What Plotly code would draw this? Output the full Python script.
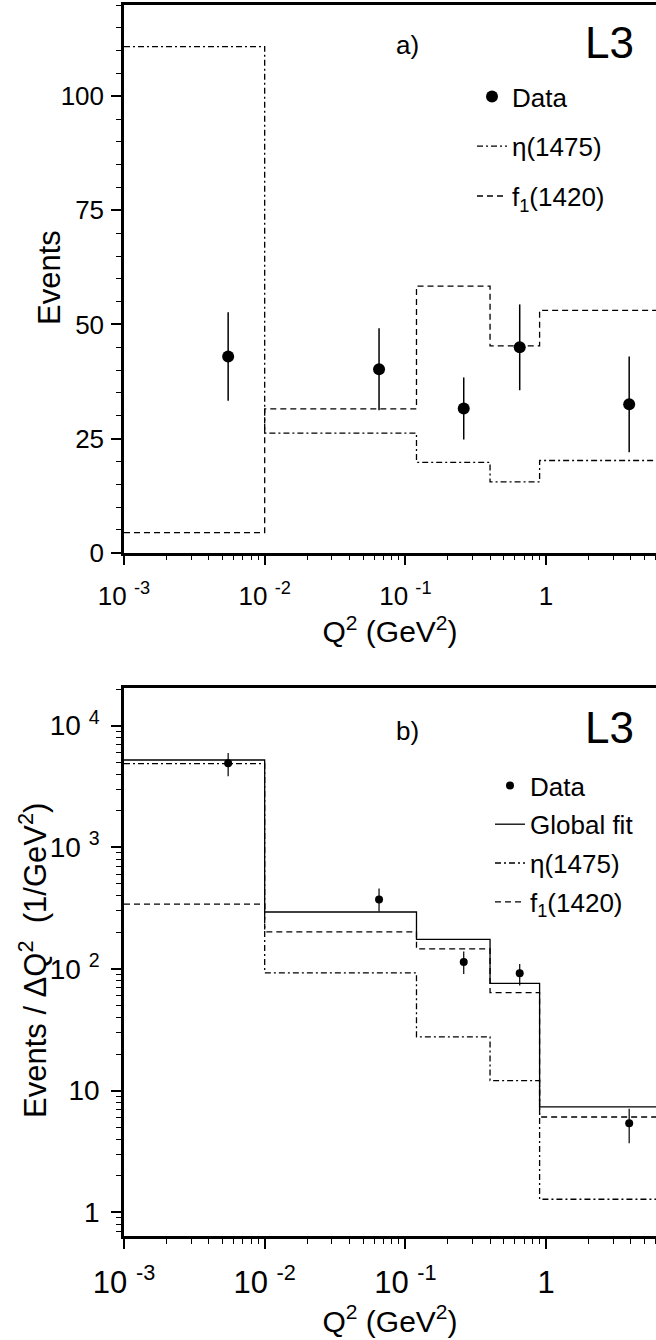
import plotly.graph_objects as go

# ---------------- data ----------------
# Q^2 bin edges (GeV^2); the last bin runs past the visible frame
q2_edges = [0.001, 0.01, 0.12, 0.4, 0.9, 100.0]
q2_points = [0.0055, 0.065, 0.26, 0.65, 3.9]

# panel a) : events per bin
a_data = [43.0, 40.2, 31.6, 45.0, 32.5]
a_err = [9.7, 9.0, 6.8, 9.4, 10.5]
a_eta = [110.9, 26.2, 19.8, 15.5, 20.2]
a_f1 = [4.4, 31.5, 58.4, 45.3, 53.1]

# panel b) : events / dQ^2 (1/GeV^2)
b_data = [4900, 372, 114, 92, 5.4]
b_err_hi = [1060, 87, 25, 18, 1.7]
b_err_lo = [1070, 75, 23, 19, 1.7]
b_fit = [5220, 294, 175, 76, 7.35]
b_eta = [4870, 93, 27.7, 12.1, 1.28]
b_f1 = [341, 202, 146, 64, 6.07]

x_tickvals = [0.001, 0.01, 0.1, 1]
x_ticktext = ["10 <sup>-3</sup>", "10 <sup>-2</sup>", "10 <sup>-1</sup>", "1"]
a_yticks = [0, 25, 50, 75, 100]
b_tickvals = [1, 10, 100, 1000, 10000]
b_ticktext = ["1", "10", "10 <sup>2</sup>", "10 <sup>3</sup>", "10 <sup>4</sup>"]

# ---------------- figure ----------------
FONT = "Liberation Sans, Arial, sans-serif"
W, H = 656, 1340
ML, MR, MT, MB = 124, 0, 5, 104
ph = H - MT - MB
pw = W - ML - MR
# pixel positions of panels
a_top, a_bot = 5.0, 552.7
b_top, b_bot = 687.7, 1236.0
dom_a = [1 - (a_bot - MT) / ph, 1 - (a_top - MT) / ph]
dom_b = [1 - (b_bot - MT) / ph, 1 - (b_top - MT) / ph]

def px2x(px):
    return (px - ML) / pw

def px2y(py):
    return 1 - (py - MT) / ph

def step(vals):
    return list(vals) + [vals[-1]]

ETA_DASH = "6px,3px,2px,3px"
F1_DASH = "6px,4px"

fig = go.Figure()

# panel a
fig.add_trace(go.Scatter(x=q2_points, y=a_data, mode="markers", name="Data",
                         marker=dict(color="black", size=12),
                         error_y=dict(type="data", array=a_err, color="black", thickness=1.5, width=0),
                         xaxis="x", yaxis="y", legend="legend", legendgroup="a1"))
fig.add_trace(go.Scatter(x=q2_edges, y=step(a_eta), mode="lines", line_shape="hv", name="η(1475)",
                         line=dict(color="black", width=1.3, dash=ETA_DASH),
                         xaxis="x", yaxis="y", legend="legend", legendgroup="a2"))
fig.add_trace(go.Scatter(x=q2_edges, y=step(a_f1), mode="lines", line_shape="hv", name="f<sub>1</sub>(1420)",
                         line=dict(color="black", width=1.3, dash=F1_DASH),
                         xaxis="x", yaxis="y", legend="legend", legendgroup="a3"))

# panel b
fig.add_trace(go.Scatter(x=q2_points, y=b_data, mode="markers", name="Data",
                         marker=dict(color="black", size=8),
                         error_y=dict(type="data", symmetric=False, array=b_err_hi, arrayminus=b_err_lo,
                                      color="black", thickness=1.2, width=0),
                         xaxis="x2", yaxis="y2", legend="legend2", legendgroup="b1"))
fig.add_trace(go.Scatter(x=q2_edges, y=step(b_fit), mode="lines", line_shape="hv", name="Global fit",
                         line=dict(color="black", width=1.3),
                         xaxis="x2", yaxis="y2", legend="legend2", legendgroup="b2"))
fig.add_trace(go.Scatter(x=q2_edges, y=step(b_eta), mode="lines", line_shape="hv", name="η(1475)",
                         line=dict(color="black", width=1.3, dash=ETA_DASH),
                         xaxis="x2", yaxis="y2", legend="legend2", legendgroup="b3"))
fig.add_trace(go.Scatter(x=q2_edges, y=step(b_f1), mode="lines", line_shape="hv", name="f<sub>1</sub>(1420)",
                         line=dict(color="black", width=1.3, dash=F1_DASH),
                         xaxis="x2", yaxis="y2", legend="legend2", legendgroup="b4"))

x_minor = [m * 10 ** k for k in range(-3, 1) for m in range(2, 10)]
y_minor_log = [m * 10 ** k for k in range(-1, 5) for m in range(2, 10)]

def xaxis_common(anchor, tickfont, ticklabelstandoff, standoff, titlesize):
    return dict(
        type="log", range=[-3, 0.7817], domain=[0, 1], anchor=anchor,
        showline=True, linecolor="black", linewidth=2.5, mirror=True,
        showgrid=False, zeroline=False,
        ticks="outside", ticklen=10, tickwidth=1.5, tickcolor="black",
        tickmode="array", tickvals=x_tickvals, ticktext=x_ticktext,
        tickfont=dict(family=FONT, size=tickfont, color="black"),
        ticklabelstandoff=ticklabelstandoff,
        minor=dict(ticks="outside", ticklen=5, tickwidth=1.2, tickcolor="black",
                   tickmode="array", tickvals=x_minor, showgrid=False),
        title=dict(text="Q<sup>2</sup> (GeV<sup>2</sup>)", standoff=standoff,
                   font=dict(family=FONT, size=titlesize, color="black")),
    )

fig.update_layout(
    width=W, height=H,
    margin=dict(l=ML, r=MR, t=MT, b=MB),
    paper_bgcolor="white", plot_bgcolor="white",
    font=dict(family=FONT, color="black"),
    xaxis=xaxis_common("y", 26, 8, 7, 30),
    xaxis2=xaxis_common("y2", 31, 7, 0, 30),
    yaxis=dict(
        domain=dom_a, anchor="x", range=[0, 120],
        showline=True, linecolor="black", linewidth=2.5, mirror=False,
        showgrid=False, zeroline=False,
        ticks="outside", ticklen=10, tickwidth=1.5, tickcolor="black",
        tickmode="array", tickvals=a_yticks,
        tickfont=dict(family=FONT, size=26, color="black"),
        ticklabelstandoff=2,
        minor=dict(ticks="outside", ticklen=5, tickwidth=1.2, tickcolor="black", dtick=5, tick0=0, showgrid=False),
    ),
    yaxis2=dict(
        domain=dom_b, anchor="x2", type="log", range=[-0.195, 4.312],
        showline=True, linecolor="black", linewidth=2.5, mirror=False,
        showgrid=False, zeroline=False,
        ticks="outside", ticklen=10, tickwidth=1.5, tickcolor="black",
        tickmode="array", tickvals=b_tickvals, ticktext=b_ticktext,
        tickfont=dict(family=FONT, size=28, color="black"),
        ticklabelstandoff=6,
        minor=dict(ticks="outside", ticklen=5, tickwidth=1.2, tickcolor="black",
                   tickmode="array", tickvals=y_minor_log, showgrid=False),
    ),
    legend=dict(x=px2x(472), y=px2y(73), xanchor="left", yanchor="top",
                bgcolor="rgba(0,0,0,0)", borderwidth=0, tracegroupgap=13,
                font=dict(family=FONT, size=26, color="black")),
    legend2=dict(x=px2x(490), y=px2y(762), xanchor="left", yanchor="top",
                 bgcolor="rgba(0,0,0,0)", borderwidth=0, tracegroupgap=2,
                 font=dict(family=FONT, size=26, color="black")),
    showlegend=True,
)

ann_font = dict(family=FONT, color="black")

# y-axis titles
fig.add_annotation(x=px2x(49), y=px2y(278), xref="paper", yref="paper", text="Events", showarrow=False,
                   textangle=-90, font=dict(size=31, **ann_font), xanchor="center", yanchor="middle")
fig.add_annotation(x=px2x(33), y=px2y(961), xref="paper", yref="paper",
                   text="Events / ΔQ<sup>2</sup>  (1/GeV<sup>2</sup>)", showarrow=False,
                   textangle=-90, font=dict(size=31, **ann_font), xanchor="center", yanchor="middle")

# panel labels
fig.add_annotation(x=px2x(407), y=px2y(45), xref="paper", yref="paper", text="a)", showarrow=False,
                   font=dict(size=26, **ann_font), xanchor="center", yanchor="middle")
fig.add_annotation(x=px2x(609), y=px2y(42), xref="paper", yref="paper", text="L3", showarrow=False,
                   font=dict(size=44, **ann_font), xanchor="center", yanchor="middle")
fig.add_annotation(x=px2x(407), y=px2y(731), xref="paper", yref="paper", text="b)", showarrow=False,
                   font=dict(size=26, **ann_font), xanchor="center", yanchor="middle")
fig.add_annotation(x=px2x(609), y=px2y(727), xref="paper", yref="paper", text="L3", showarrow=False,
                   font=dict(size=44, **ann_font), xanchor="center", yanchor="middle")

fig.write_html("out.html", config={"displayModeBar": False},
               post_script="document.body.style.margin='0px';")
